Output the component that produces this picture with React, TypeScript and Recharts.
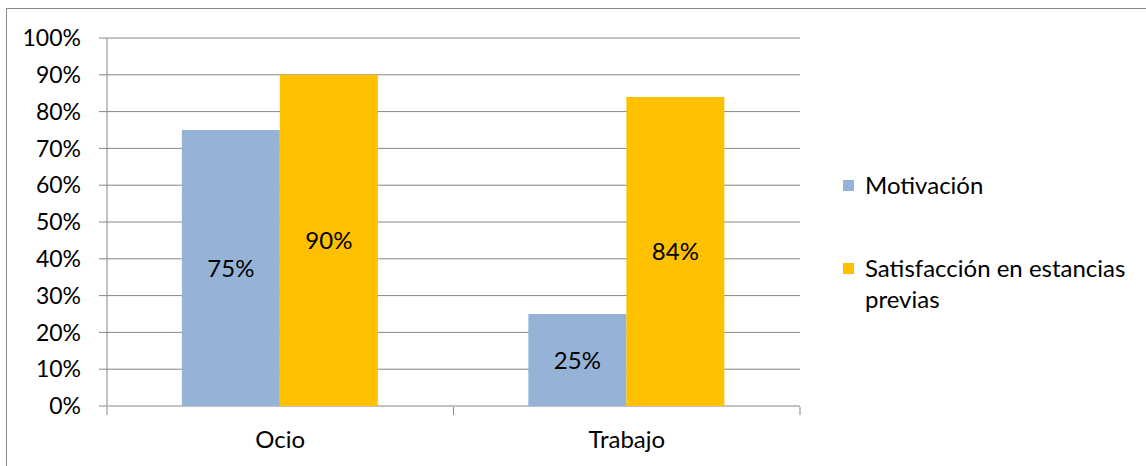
import { Bar, BarChart, CartesianGrid, LabelList, XAxis, YAxis } from "recharts";

const categories = ["Ocio", "Trabajo"];
const motivacion = [75, 25];
const satisfaccion = [90, 84];
const yTicks = [0, 10, 20, 30, 40, 50, 60, 70, 80, 90, 100];
const edgeTicks = [0, 1, 2];

const series = [
  { key: "motivacion", name: "Motivación", color: "#95B3D7" },
  { key: "satisfaccion", name: "Satisfacción en estancias previas", color: "#FFC000" },
];

const data = categories.map((c, i) => ({ cat: c, motivacion: motivacion[i], satisfaccion: satisfaccion[i] }));

const FONT = "Lato, 'Open Sans', sans-serif";
const GRID = "#868686";
const pct = (v: unknown) => `${v}%`;

export default function App() {
  return (
    <div style={{ position: "absolute", left: 0, top: 0, width: 1146, height: 466, background: "#fff", overflow: "hidden", fontFamily: FONT }}>
      <div style={{ position: "absolute", left: 6, top: 8, width: 1160, height: 480, border: "1.5px solid #8a8a8a", boxSizing: "border-box" }} />
      <BarChart
        width={1146}
        height={466}
        data={data}
        margin={{ top: 38, right: 346, bottom: 0, left: 0 }}
        barGap={0}
        barCategoryGap="21.6%"
        style={{ position: "absolute", left: 0, top: 0 }}
      >
        <CartesianGrid vertical={false} stroke={GRID} strokeWidth={1} />
        {/* category labels */}
        <XAxis
          dataKey="cat"
          height={1}
          axisLine={false}
          tickLine={false}
          tickSize={8}
          tickMargin={17}
          tick={{ fill: "#000", fontSize: 24, fontFamily: FONT }}
        />
        {/* boundary tick marks between categories */}
        <XAxis
          xAxisId="edge"
          type="number"
          dataKey="edge"
          domain={[0, 2]}
          ticks={edgeTicks}
          interval={0}
          allowDataOverflow
          height={59}
          tickFormatter={() => ""}
          axisLine={false}
          tickLine={{ stroke: GRID }}
          tickSize={8}
          stroke={GRID}
        />
        <YAxis
          width={107}
          domain={[0, 100]}
          ticks={yTicks}
          tickFormatter={pct}
          tickSize={8}
          tickMargin={18}
          stroke={GRID}
          tick={{ fill: "#000", fontSize: 23, fontFamily: FONT }}
        />
        {series.map((s) => (
          <Bar key={s.key} dataKey={s.key} name={s.name} fill={s.color} isAnimationActive={false}>
            <LabelList dataKey={s.key} position="center" formatter={pct} fill="#000" fontSize={24} fontFamily={FONT} />
          </Bar>
        ))}
      </BarChart>
      <div style={{ position: "absolute", left: 843, top: 169, width: 292, fontSize: 24, lineHeight: "31px", color: "#000" }}>
        {series.map((s, i) => (
          <div key={s.key} style={{ display: "flex", alignItems: "flex-start", marginBottom: i === 0 ? 52 : 0 }}>
            <span style={{ width: 11, height: 11, background: s.color, marginTop: 11, marginRight: 11, flexShrink: 0 }} />
            <span>{s.name}</span>
          </div>
        ))}
      </div>
    </div>
  );
}
